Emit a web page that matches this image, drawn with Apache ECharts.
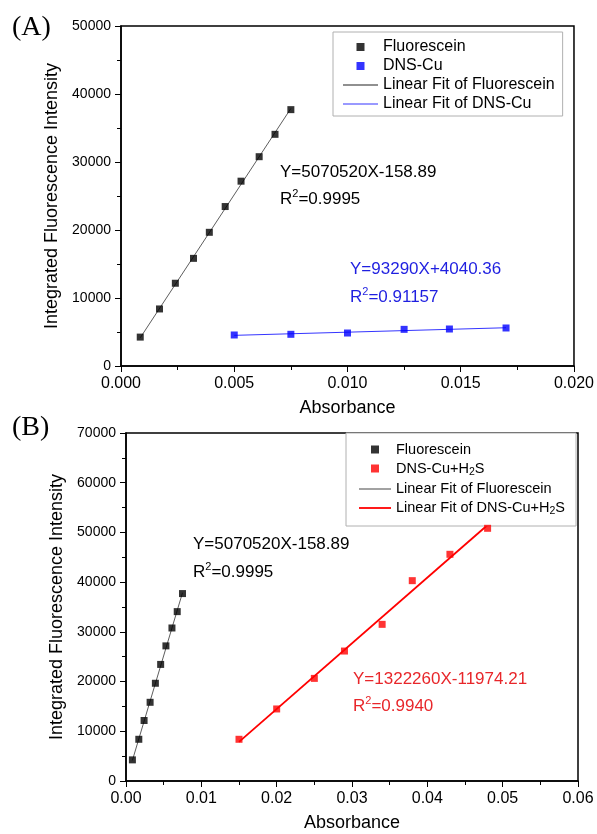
<!DOCTYPE html>
<html><head><meta charset="utf-8">
<script src="https://cdn.jsdelivr.net/npm/echarts@6/dist/echarts.min.js"></script>
<style>html,body{margin:0;padding:0;background:#fff}#c{width:597px;height:834px}</style>
</head><body><div id="c"></div>
<script>
// ---- data ----
const fluorX = [0.00085, 0.0017, 0.0024, 0.0032, 0.0039, 0.0046, 0.0053, 0.0061, 0.0068, 0.0075];
const fluorY = [4250, 8390, 12170, 15830, 19660, 23450, 27180, 30780, 34070, 37700];
const dnsCuX = [0.005, 0.0075, 0.010, 0.0125, 0.0145, 0.017];
const dnsCuY = [4560, 4660, 4850, 5390, 5440, 5590];
const dnsH2SX = [0.015, 0.020, 0.025, 0.029, 0.034, 0.038, 0.043, 0.048];
const dnsH2SY = [8390, 14490, 20640, 26140, 31510, 40300, 45600, 50830];
// fitted-line end points
const fluorFitX = [0.00085, 0.0075];
const fluorFitY = [4150, 37870];
const dnsCuFitX = [0.005, 0.017];
const dnsCuFitY = [4506, 5626];
const dnsH2SFitX = [0.015, 0.048];
const dnsH2SFitY = [7860, 51490];
// tick settings
const xTicksA = {min: 0, max: 0.02, interval: 0.005, digits: 3};
const yTicksA = {min: 0, max: 50000, interval: 10000};
const xTicksB = {min: 0, max: 0.06, interval: 0.01, digits: 2};
const yTicksB = {min: 0, max: 70000, interval: 10000};
// texts
const seriesNamesA = ['Fluorescein', 'DNS-Cu', 'Linear Fit of Fluorescein', 'Linear Fit of DNS-Cu'];
const seriesNamesB = ['Fluorescein', 'DNS-Cu+H2S', 'Linear Fit of Fluorescein', 'Linear Fit of DNS-Cu+H2S'];
const xName = 'Absorbance';
const yName = 'Integrated Fluorescence Intensity';

const zip = (xs, ys) => xs.map((x, i) => [x, ys[i]]);
const FF = '"Liberation Sans", Arial, sans-serif';

function xAxis(t, grid) {
  return {
    type: 'value', gridIndex: grid, min: t.min, max: t.max, interval: t.interval,
    name: xName, nameLocation: 'middle', nameGap: 33,
    nameTextStyle: {fontSize: 18, color: '#000', fontFamily: FF},
    axisLine: {show: true, onZero: false, lineStyle: {color: '#000', width: 1.5}},
    axisTick: {show: true, length: 6, lineStyle: {color: '#000', width: 1}},
    minorTick: {show: true, splitNumber: 2, length: 4, lineStyle: {color: '#000', width: 1}},
    splitLine: {show: false}, minorSplitLine: {show: false},
    axisLabel: {fontSize: 16, color: '#000', fontFamily: FF, margin: 10,
      formatter: v => v.toFixed(t.digits)}
  };
}
function yAxis(t, grid) {
  return {
    type: 'value', gridIndex: grid, min: t.min, max: t.max, interval: t.interval,
    name: yName, nameLocation: 'middle', nameGap: 53,
    nameTextStyle: {fontSize: 18, color: '#000', fontFamily: FF},
    axisLine: {show: true, onZero: false, lineStyle: {color: '#000', width: 1.5}},
    axisTick: {show: true, length: 6, lineStyle: {color: '#000', width: 1}},
    minorTick: {show: true, splitNumber: 2, length: 4, lineStyle: {color: '#000', width: 1}},
    splitLine: {show: false}, minorSplitLine: {show: false},
    axisLabel: {fontSize: 14, color: '#000', fontFamily: FF, margin: 10,
      formatter: v => String(v)}
  };
}
function legendFmt(name) {
  if (name.indexOf('H2S') >= 0) {
    const p = name.split('H2S');
    return '{n|' + p[0] + 'H}{s|2}{n|S' + p[1] + '}';
  }
  return '{n|' + name + '}';
}
function legendText(fs) {
  return {
    fontSize: fs, color: '#000', fontFamily: FF,
    rich: {
      n: {fontSize: fs, lineHeight: 18, color: '#000', fontFamily: FF},
      s: {fontSize: 10.5, lineHeight: 10, verticalAlign: 'bottom', color: '#000', fontFamily: FF}
    }
  };
}
const sq = 'path://M0,0L1,0L1,1L0,1Z';
const bar = (w, h) => 'path://M0,0L' + w + ',0L' + w + ',' + h + 'L0,' + h + 'Z';

function scatter(name, xs, ys, color, ax, size) {
  return {type: 'scatter', name, xAxisIndex: ax, yAxisIndex: ax, data: zip(xs, ys),
    symbol: 'rect', symbolSize: size, itemStyle: {color}, z: 5, silent: true};
}
function fit(name, xs, ys, color, ax, w) {
  return {type: 'line', name, xAxisIndex: ax, yAxisIndex: ax, data: zip(xs, ys),
    symbol: 'none', lineStyle: {color, width: w}, itemStyle: {color}, z: 3, silent: true};
}
function txt(x, y, text, color) {
  return {type: 'text', x, y, silent: true,
    style: {text, fill: color, fontSize: 17, fontFamily: FF, verticalAlign: 'middle'}};
}
function rtxt(x, y, val, color) {
  return {type: 'text', x, y, silent: true,
    style: {text: '{r|R}{s|2}{r|=' + val + '}', fill: color, verticalAlign: 'middle',
      rich: {
        r: {fontSize: 17, lineHeight: 22, fontFamily: FF, fill: color, color},
        s: {fontSize: 11, lineHeight: 11, verticalAlign: 'top', fontFamily: FF, fill: color, color}
      }}};
}

const chart = echarts.init(document.getElementById('c'), null, {renderer: 'canvas'});
chart.setOption({
  animation: false,
  backgroundColor: '#fff',
  grid: [
    {left: 121, top: 26, width: 453, height: 340, show: true, borderColor: '#000', borderWidth: 1.5, backgroundColor: 'transparent'},
    {left: 126, top: 433, width: 452, height: 348, show: true, borderColor: '#000', borderWidth: 1.5, backgroundColor: 'transparent'}
  ],
  xAxis: [xAxis(xTicksA, 0), xAxis(xTicksB, 1)],
  yAxis: [yAxis(yTicksA, 0), yAxis(yTicksB, 1)],
  legend: [
    {orient: 'vertical', left: 333, top: 32, padding: [7, 8, 4, 10], itemGap: 3,
      itemWidth: 35, itemHeight: 8, symbolKeepAspect: true, selectedMode: false,
      backgroundColor: '#fff', borderColor: '#b0b0b0', borderWidth: 1,
      textStyle: legendText(16), formatter: legendFmt,
      data: [
        {name: seriesNamesA[0], icon: sq},
        {name: seriesNamesA[1], icon: sq},
        {name: seriesNamesA[2], icon: bar(35, 1), itemStyle: {color: '#222', borderWidth: 0}},
        {name: seriesNamesA[3], icon: bar(35, 1), itemStyle: {color: '#3535ff', borderWidth: 0}}
      ]},
    {orient: 'vertical', left: 346, top: 433, padding: [9, 11, 9, 13], itemGap: 4,
      itemWidth: 32, itemHeight: 8, symbolKeepAspect: true, selectedMode: false,
      backgroundColor: '#fff', borderColor: '#b0b0b0', borderWidth: 1,
      textStyle: legendText(14.5), formatter: legendFmt,
      data: [
        {name: seriesNamesB[0], icon: sq},
        {name: seriesNamesB[1], icon: sq},
        {name: seriesNamesB[2], icon: bar(32, 1), itemStyle: {color: '#444', borderWidth: 0}},
        {name: seriesNamesB[3], icon: bar(32, 1.8), itemStyle: {color: '#ff0000', borderWidth: 0}}
      ]}
  ],
  series: [
    fit(seriesNamesA[2], fluorFitX, fluorFitY, '#333', 0, 0.8),
    fit(seriesNamesA[3], dnsCuFitX, dnsCuFitY, '#3535ff', 0, 1),
    scatter(seriesNamesA[0], fluorX, fluorY, '#000', 0, 7),
    scatter(seriesNamesA[1], dnsCuX, dnsCuY, '#0000ff', 0, 7),
    fit(seriesNamesB[2], fluorFitX, fluorFitY, '#333', 1, 0.8),
    fit(seriesNamesB[3], dnsH2SFitX, dnsH2SFitY, '#ff0000', 1, 1.8),
    scatter(seriesNamesB[0], fluorX, fluorY, '#000', 1, 7),
    scatter(seriesNamesB[1], dnsH2SX, dnsH2SY, '#ff0000', 1, 7)
  ],
  graphic: [
    {type: 'text', x: 12, y: 28, silent: true, style: {text: '(A)', fontSize: 28, fontFamily: '"Liberation Serif", "Times New Roman", serif', fill: '#000', verticalAlign: 'middle'}},
    {type: 'text', x: 12, y: 428, silent: true, style: {text: '(B)', fontSize: 28, fontFamily: '"Liberation Serif", "Times New Roman", serif', fill: '#000', verticalAlign: 'middle'}},
    txt(280, 172, 'Y=5070520X-158.89', '#000'),
    rtxt(280, 199, '0.9995', '#000'),
    txt(350, 269, 'Y=93290X+4040.36', '#1f1fe0'),
    rtxt(350, 297, '0.91157', '#1f1fe0'),
    txt(193, 544, 'Y=5070520X-158.89', '#000'),
    rtxt(193, 572, '0.9995', '#000'),
    txt(353, 679, 'Y=1322260X-11974.21', '#e8262a'),
    rtxt(353, 706, '0.9940', '#e8262a')
  ]
});
</script></body></html>
